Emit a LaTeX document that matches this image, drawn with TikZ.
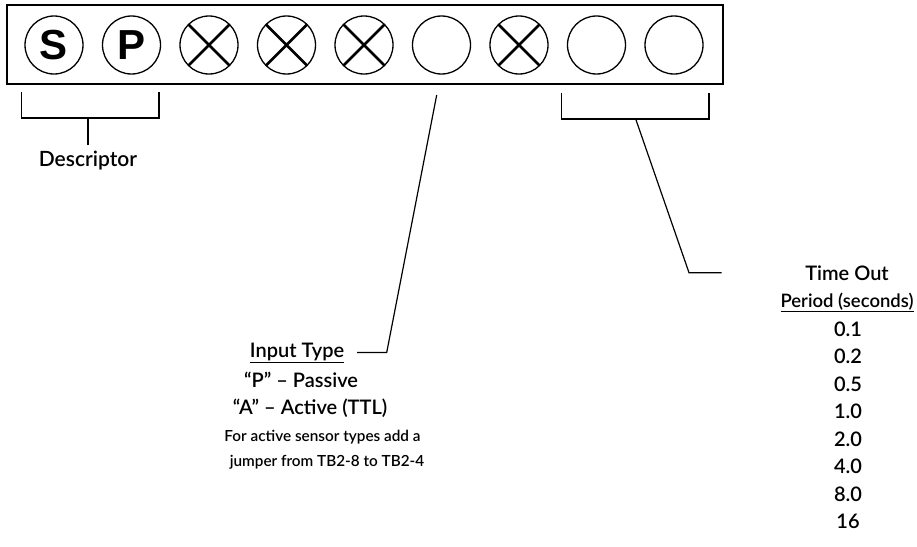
\documentclass[tikz,border=0pt]{standalone}
\usepackage{fontspec}
\setmainfont{Lato}[UprightFont={* Semibold}]
\newfontfamily\segfont{Liberation Sans}
\begin{document}
\begin{tikzpicture}[x=1pt,y=-1pt,
  pin/.style={circle, draw, line width=1.3pt, minimum size=58pt, inner sep=0pt, outer sep=0pt},
  seg/.style={font=\segfont\bfseries\fontsize{42}{42}\selectfont},
  xmark/.style={line width=2.8pt},
  lbl/.style={font=\fontsize{20}{24}\selectfont, inner sep=0pt, anchor=base},
  sml/.style={font=\fontsize{15.3}{18}\selectfont, inner sep=0pt, anchor=base},
  lead/.style={line width=1.2pt}]
\useasboundingbox (0,0) rectangle (917,546);
% terminal strip
\node[draw, line width=1.6pt, minimum width=716pt, minimum height=79pt, inner sep=0pt] (box) at (365,44.5) {};
\node[pin, seg] (c1) at (54,45) {S};
\node[pin, seg] (c2) at (131.5,45) {P};
\node[pin] (c3) at (209,45) {};
\node[pin] (c4) at (286.5,45) {};
\node[pin] (c5) at (364,45) {};
\node[pin] (c6) at (441.5,45) {};
\node[pin] (c7) at (519,45) {};
\node[pin] (c8) at (596.5,45) {};
\node[pin] (c9) at (674,45) {};
\foreach \c in {c3,c4,c5,c7}
  \draw[xmark] (\c.45) -- (\c.225) (\c.135) -- (\c.315);
% descriptor bracket
\coordinate (dl) at (21.7,92);
\coordinate (dbl) at (21.7,118);
\coordinate (dbr) at (159,118);
\coordinate (dr) at (159,92);
\coordinate (dm) at (88,118);
\coordinate (ds) at (88,145);
\draw[lead] (dl) -- (dbl) -- (dbr) -- (dr);
\draw[lead] (dm) -- (ds);
\node[lbl, font=\fontsize{21}{24}\selectfont] (desc) at (88,166) {Descriptor};
% input type leader
\coordinate (m1) at (436.7,95);
\coordinate (m2) at (386.7,352.5);
\coordinate (m3) at (357,352.5);
\draw[lead] (m1) -- (m2) -- (m3);
\node[lbl] (in1) at (297,357) {\underline{Input Type}};
\node[lbl] (in2) at (301,387) {“P” – Passive};
\node[lbl] (in3) at (310,414) {“A” – Active (TTL)};
\node[sml] (in4) at (322.5,441) {For active sensor types add a};
\node[sml] (in5) at (327,466) {jumper from TB2-8 to TB2-4};
% time out bracket
\coordinate (tl) at (561.7,92.7);
\coordinate (tbl) at (561.7,119);
\coordinate (tbr) at (709,119);
\coordinate (tr) at (709,92.7);
\coordinate (tm) at (635.7,119);
\coordinate (tk) at (689,272.7);
\coordinate (te) at (721.7,272.7);
\draw[lead] (tl) -- (tbl) -- (tbr) -- (tr);
\draw[lead] (tm) -- (tk) -- (te);
\node[lbl] (t1) at (847,280) {Time Out};
\node[lbl, font=\fontsize{18.5}{22}\selectfont] (t2) at (847,307) {\underline{Period (seconds)}};
\node[lbl] (v1) at (848,336) {0.1};
\node[lbl] (v2) at (848,363.5) {0.2};
\node[lbl] (v3) at (848,391) {0.5};
\node[lbl] (v4) at (848,418.5) {1.0};
\node[lbl] (v5) at (848,446) {2.0};
\node[lbl] (v6) at (848,473.5) {4.0};
\node[lbl] (v7) at (848,501) {8.0};
\node[lbl] (v8) at (848,528.5) {16};
\end{tikzpicture}
\end{document}
